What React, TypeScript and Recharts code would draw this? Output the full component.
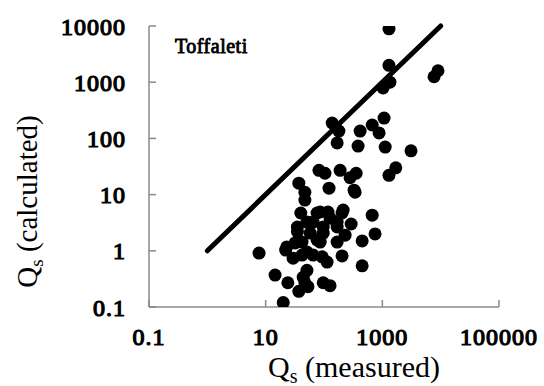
import React from 'react';
import { ScatterChart, Scatter, XAxis, YAxis, ReferenceLine } from 'recharts';

const measured = [
  1300, 1300, 1350, 1030, 7700, 9000, 138, 180, 168, 416,
  670, 1070, 880, 1120, 384, 3100, 82, 104, 189, 356,
  280, 1300, 1700, 37, 47, 122, 328, 670, 213, 292,
  127, 40, 86, 117, 35, 51, 168, 7.7, 22, 14.5,
  24, 37, 53, 51, 44, 20, 97, 127, 35, 32,
  51, 93, 29.5, 65, 97, 86, 204, 168, 230, 168,
  451, 750, 451, 341, 76, 204, 58, 97, 23, 42,
  65, 113, 42, 76, 47, 47,
];
const calculated = [
  8900, 2000, 1000, 790, 1250, 1600, 188, 135, 83, 135,
  173, 230, 125, 70, 73, 60, 27, 24, 27, 24,
  20, 22, 30, 16, 11, 13, 12, 4.3, 5.3, 3.0,
  3.8, 4.7, 4.9, 4.9, 2.65, 3.25, 3.25, 0.91, 1.03, 0.37,
  0.27, 0.19, 0.23, 0.45, 0.34, 0.12, 0.27, 0.24, 2.2, 1.38,
  0.95, 0.78, 0.74, 3.25, 2.65, 1.43, 0.81, 2.65, 1.9, 1.43,
  1.5, 2.0, 0.54, 11, 4.7, 4.7, 2.07, 2.07, 1.17, 0.84,
  0.84, 0.63, 1.43, 1.56, 8.0, 0.27,
];
const xTicks = [0.1, 10, 1000, 100000];
const yTicks = [0.1, 1, 10, 100, 1000, 10000];
const lineStart = { x: 1, y: 1 };
const lineEnd = { x: 10000, y: 10000 };
const seriesName = 'Toffaleti';

const data = measured.map((x, i) => ({ x, y: calculated[i] }));

const FONT = 'Liberation Serif';

const Dot = (props: any) => {
  const { cx, cy } = props;
  if (cx == null || cy == null) return null;
  return <circle cx={cx} cy={cy} r={6.5} fill="#000" />;
};

const boldText = {
  fontFamily: FONT,
  fontSize: 24,
  fill: '#000',
  stroke: '#000',
  strokeWidth: 1.2,
  letterSpacing: 1,
};

const XTick = (props: any) => {
  const { x, y, payload } = props;
  return (
    <text x={x} y={y} dy="0.71em" textAnchor="middle" {...boldText}>
      {String(payload.value)}
    </text>
  );
};

const YTick = (props: any) => {
  const { x, y, payload } = props;
  return (
    <text x={x} y={y} dy="0.355em" textAnchor="end" {...boldText}>
      {String(payload.value)}
    </text>
  );
};

const XTitle = (props: any) => {
  const vb = props.viewBox || { x: 0, y: 0, width: 0, height: 0 };
  const cx = vb.x + vb.width / 2 + 30;
  const by = vb.y + 70;
  return (
    <text x={cx} y={by} textAnchor="middle" fontFamily={FONT} fontSize={30} fill="#000">
      <tspan>Q</tspan>
      <tspan fontSize={20} dy={6}>s</tspan>
      <tspan dy={-6}> (measured)</tspan>
    </text>
  );
};

const YTitle = (props: any) => {
  const vb = props.viewBox || { x: 0, y: 0, width: 0, height: 0 };
  const cx = vb.x + 37;
  const cy = vb.y + vb.height / 2 + 35;
  return (
    <g>
      <text
        x={cx}
        y={cy}
        textAnchor="middle"
        fontFamily={FONT}
        fontSize={29}
        fill="#000"
        transform={`rotate(-90, ${cx}, ${cy})`}
      >
        <tspan>Q</tspan>
        <tspan fontSize={19} dy={6}>s</tspan>
        <tspan dy={-6}> (calculated)</tspan>
      </text>
      <text
        x={vb.x + vb.width + 26}
        y={vb.y + 27}
        fontFamily={FONT}
        fontSize={20}
        fill="#000"
        stroke="#000"
        strokeWidth={0.9}
        letterSpacing={0.5}
      >
        {seriesName}
      </text>
    </g>
  );
};

export default function App() {
  return (
    <div style={{ position: 'absolute', left: 0, top: 0, background: '#fff' }}>
      <ScatterChart width={544} height={386} margin={{ top: 26, right: 45, bottom: 19, left: 0 }}>
        <XAxis
          type="number"
          dataKey="x"
          scale="log"
          domain={[0.1, 100000]}
          ticks={xTicks}
          allowDataOverflow
          height={60}
          tickSize={-7}
          tickMargin={28}
          tick={<XTick />}
          stroke="#8a8a8a"
          strokeWidth={1.5}
          label={<XTitle />}
        />
        <YAxis
          type="number"
          dataKey="y"
          scale="log"
          domain={[0.1, 10000]}
          ticks={yTicks}
          allowDataOverflow
          width={149}
          tickSize={-7}
          tickMargin={30}
          tick={<YTick />}
          stroke="#8a8a8a"
          strokeWidth={1.5}
          label={<YTitle />}
        />
        <ReferenceLine
          segment={[lineStart, lineEnd]}
          stroke="#000"
          strokeWidth={5}
          strokeLinecap="round"
          ifOverflow="visible"
        />
        <Scatter data={data} fill="#000" shape={<Dot />} isAnimationActive={false} />
      </ScatterChart>
    </div>
  );
}
